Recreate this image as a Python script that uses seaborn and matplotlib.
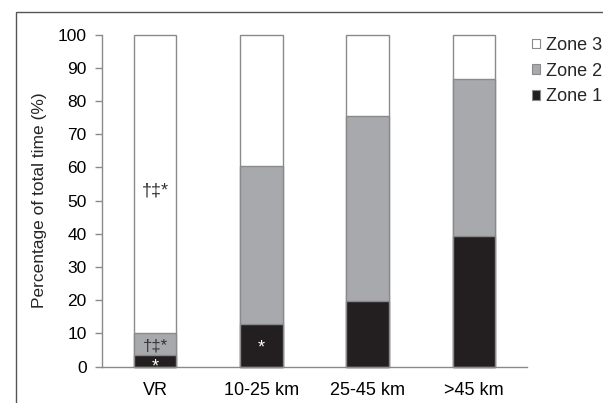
import matplotlib
matplotlib.use("Agg")
import matplotlib.pyplot as plt
import seaborn as sns
import pandas as pd
from matplotlib.patches import Rectangle

categories = ["VR", "10-25 km", "25-45 km", ">45 km"]
zone1 = [3.5, 12.8, 19.7, 39.2]
zone2 = [6.5, 47.7, 55.8, 47.3]
zone3 = [90.0, 39.5, 24.5, 13.5]

df = pd.DataFrame({"cat": categories, "z1": zone1, "z2": zone2, "z3": zone3})
df["c2"] = df["z1"] + df["z2"]
df["c3"] = df["c2"] + df["z3"]

sns.set_style("white")
plt.rcParams["font.family"] = ["Liberation Sans", "DejaVu Sans"]

fig = plt.figure(figsize=(6.03, 4.03), dpi=100)
ax = fig.add_axes([102/603, 36.3/403, 425/603, 332.2/403])

edge = "#8a8a8a"
c1, c2, c3 = "#231f20", "#a7a9ac", "#ffffff"
w = 0.4
sns.barplot(data=df, x="cat", y="c3", color=c3, edgecolor=edge, linewidth=1.0, width=w, ax=ax, saturation=1)
sns.barplot(data=df, x="cat", y="c2", color=c2, edgecolor=edge, linewidth=1.0, width=w, ax=ax, saturation=1)
sns.barplot(data=df, x="cat", y="z1", color=c1, edgecolor=edge, linewidth=1.0, width=w, ax=ax, saturation=1)
for p in ax.patches:
    p.set_clip_on(False)

ax.set_xlim(-0.5, 3.5)
ax.set_ylim(0, 100)
ax.set_yticks(range(0, 101, 10))
ax.set_xlabel("")
ax.set_ylabel("Percentage of total time (%)", fontsize=12.5, labelpad=8)
for s in ["top", "right"]:
    ax.spines[s].set_visible(False)
for s in ["left", "bottom"]:
    ax.spines[s].set_color("#8a8a8a")
    ax.spines[s].set_linewidth(1.0)
ax.set_xticks([-0.5, 0.5, 1.5, 2.5, 3.5], minor=True)
ax.tick_params(axis="x", which="major", length=0, labelsize=13, pad=11, colors="black")
ax.tick_params(axis="x", which="minor", length=5, width=1, color="#8a8a8a", direction="out")
ax.tick_params(axis="y", which="major", length=5, width=1, color="#8a8a8a", direction="out",
               labelsize=12.5, pad=6, labelcolor="black", left=True)

ax.text(0, 53, "†‡*", ha="center", va="center", fontsize=13, color="#333333")
ax.text(0, 6.2, "†‡*", ha="center", va="center", fontsize=12, color="#333333")
ax.text(0, -0.2, "*", ha="center", va="center", fontsize=13, color="white", clip_on=False)
ax.text(1, 5.6, "*", ha="center", va="center", fontsize=13, color="white")

handles = [Rectangle((0, 0), 1, 1, facecolor=c, edgecolor=edge, linewidth=0.8) for c in (c3, c2, c1)]
fig.legend(handles, ["Zone 3", "Zone 2", "Zone 1"], loc="upper left",
           bbox_to_anchor=(532/603, 1 - 37/403), frameon=False, fontsize=13,
           handlelength=0.45, handleheight=0.45, handletextpad=0.3, labelspacing=0.48,
           borderpad=0, borderaxespad=0)

fig.patches.append(Rectangle((16/603, -0.2), 1.2, (403 - 12)/403 + 0.2, transform=fig.transFigure,
                             fill=False, edgecolor="#555555", linewidth=1.0, figure=fig))

fig.savefig("out.png", dpi=100)
